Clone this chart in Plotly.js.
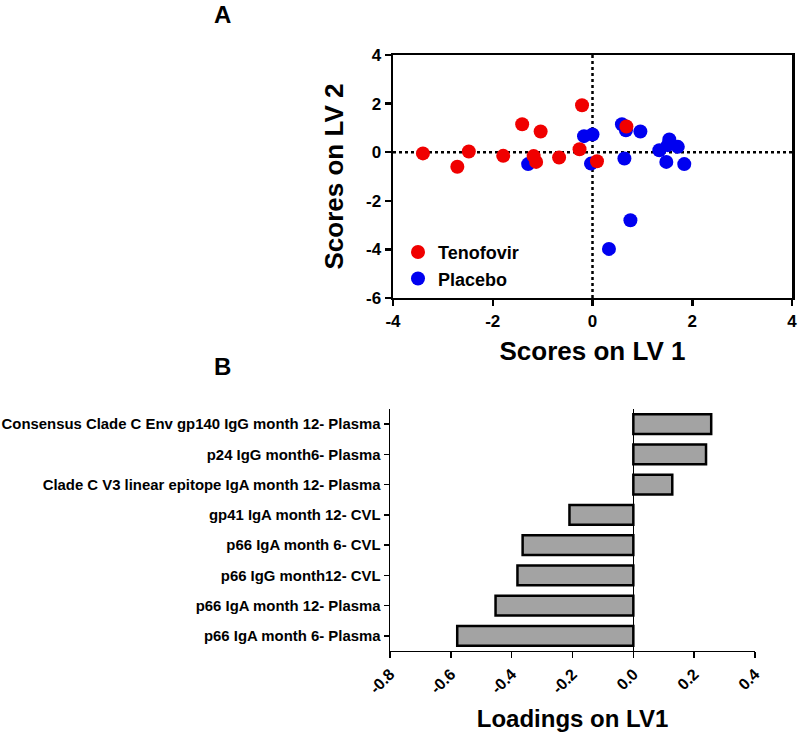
<!DOCTYPE html>
<html>
<head>
<meta charset="utf-8">
<script src="https://cdn.plot.ly/plotly-3.0.1.min.js"></script>
<style>html,body{margin:0;padding:0;background:#fff;}#chart{width:800px;height:732px;}</style>
</head>
<body>
<div id="chart"></div>
<script>
// Panel A: PLS-DA scores
const tenofovirX = [-3.40, -2.71, -2.48, -1.79, -1.41, -1.04, -1.18, -1.13, -0.67, -0.26, -0.21, 0.09, 0.68];
const tenofovirY = [-0.05, -0.60, 0.03, -0.15, 1.15, 0.85, -0.16, -0.40, -0.22, 0.12, 1.93, -0.37, 1.06];
const placeboX = [-1.29, -0.17, 0.00, -0.03, 0.59, 0.67, 0.96, 0.64, 1.34, 1.54, 1.71, 1.51, 1.48, 1.84, 0.76, 0.33];
const placeboY = [-0.49, 0.66, 0.73, -0.47, 1.15, 0.90, 0.85, -0.26, 0.08, 0.52, 0.22, 0.29, -0.40, -0.49, -2.80, -3.98];
const scoreTicks = [-4, -2, 0, 2, 4];
const scoreTickText = ["-4", "-2", "0", "2", "4"];
const scoreYTicks = [-6, -4, -2, 0, 2, 4];
const scoreYTickText = ["-6", "-4", "-2", "0", "2", "4"];

// Panel B: loadings on LV1 (top to bottom)
const loadingLabels = [
  "Consensus Clade C Env gp140 IgG month 12- Plasma",
  "p24 IgG month6- Plasma",
  "Clade C V3 linear epitope IgA month 12- Plasma",
  "gp41 IgA month 12- CVL",
  "p66 IgA month 6- CVL",
  "p66 IgG month12- CVL",
  "p66 IgA month 12- Plasma",
  "p66 IgA month 6- Plasma"
];
const loadingValues = [0.256, 0.239, 0.128, -0.210, -0.364, -0.381, -0.453, -0.579];
const loadTicks = [-0.8, -0.6, -0.4, -0.2, 0.0, 0.2, 0.4];
const loadTickText = ["-0.8", "-0.6", "-0.4", "-0.2", "0.0", "0.2", "0.4"];

const FONT = "Arial, 'Liberation Sans', Helvetica, sans-serif";

const traces = [
  {
    type: "scatter", mode: "markers", name: "Placebo",
    x: placeboX, y: placeboY, xaxis: "x", yaxis: "y",
    marker: {color: "#0000f0", size: 14},
    legendrank: 2
  },
  {
    type: "scatter", mode: "markers", name: "Tenofovir",
    x: tenofovirX, y: tenofovirY, xaxis: "x", yaxis: "y",
    marker: {color: "#f00000", size: 14},
    legendrank: 1
  },
  {
    type: "bar", orientation: "h", showlegend: false,
    x: loadingValues, y: loadingLabels, xaxis: "x2", yaxis: "y2",
    width: 0.66,
    marker: {color: "#a3a3a3", line: {color: "#000", width: 2.5}}
  }
];

const tickFont = {family: FONT, size: 17, color: "#000", weight: "bold"};

const layout = {
  width: 800, height: 732,
  margin: {l: 0, r: 0, t: 0, b: 0},
  paper_bgcolor: "#fff", plot_bgcolor: "rgba(0,0,0,0)",
  font: {family: FONT, color: "#000"},
  showlegend: true,
  legend: {
    x: 0.4975, y: 0.6805, xanchor: "left", yanchor: "top",
    bgcolor: "rgba(0,0,0,0)",
    font: {family: FONT, size: 18, color: "#000", weight: "bold"},
    itemsizing: "trace", tracegroupgap: 0
  },
  xaxis: {
    domain: [0.49125, 0.99], anchor: "y",
    range: [-4, 4], tickmode: "array", tickvals: scoreTicks, ticktext: scoreTickText,
    showgrid: false, zeroline: false,
    showline: true, linecolor: "#000", linewidth: 2.5, mirror: true,
    ticks: "outside", ticklen: 6, tickwidth: 2.5, tickcolor: "#000",
    tickfont: tickFont,
    title: {text: "Scores on LV 1", font: {family: FONT, size: 26, color: "#000", weight: "bold"}, standoff: 12}
  },
  yaxis: {
    domain: [0.5929, 0.92486], anchor: "x",
    range: [-6, 4], tickmode: "array", tickvals: scoreYTicks, ticktext: scoreYTickText,
    showgrid: false, zeroline: false,
    showline: true, linecolor: "#000", linewidth: 2.5, mirror: true,
    ticks: "outside", ticklen: 6, tickwidth: 2.5, tickcolor: "#000",
    tickfont: tickFont,
    title: {text: "Scores on LV 2", font: {family: FONT, size: 26, color: "#000", weight: "bold"}, standoff: 15}
  },
  xaxis2: {
    domain: [0.4875, 0.94375], anchor: "y2",
    range: [-0.8, 0.4], tickmode: "array", tickvals: loadTicks, ticktext: loadTickText,
    tickangle: -45,
    showgrid: false, zeroline: true, zerolinecolor: "#000", zerolinewidth: 1,
    showline: true, linecolor: "#000", linewidth: 1.5,
    ticks: "outside", ticklen: 6, tickwidth: 1.5, tickcolor: "#000",
    tickfont: {family: FONT, size: 16, color: "#000", weight: "bold"},
    title: {text: "Loadings on LV1", font: {family: FONT, size: 24, color: "#000", weight: "bold"}, standoff: 14}
  },
  yaxis2: {
    domain: [0.11066, 0.44126], anchor: "x2",
    type: "category", autorange: false, range: [7.5, -0.5],
    showgrid: false, zeroline: false,
    showline: true, linecolor: "#000", linewidth: 1.5,
    ticks: "outside", ticklen: 5, tickwidth: 1.5, tickcolor: "#000",
    tickfont: {family: FONT, size: 14.9, color: "#000", weight: "bold"}
  },
  shapes: [
    {type: "line", xref: "x", yref: "paper", x0: 0, x1: 0, y0: 0.5929, y1: 0.92486,
     line: {color: "#000", width: 2.5, dash: "dot"}, layer: "below"},
    {type: "line", xref: "paper", yref: "y", x0: 0.49125, x1: 0.99, y0: 0, y1: 0,
     line: {color: "#000", width: 2.5, dash: "dot"}, layer: "below"}
  ],
  annotations: [
    {text: "A", xref: "paper", yref: "paper", x: 0.2775, y: 1 - 15/732, showarrow: false,
     xanchor: "center", yanchor: "middle", font: {family: FONT, size: 24, color: "#000", weight: "bold"}},
    {text: "B", xref: "paper", yref: "paper", x: 0.2775, y: 1 - 366/732, showarrow: false,
     xanchor: "center", yanchor: "middle", font: {family: FONT, size: 24, color: "#000", weight: "bold"}}
  ]
};

Plotly.newPlot("chart", traces, layout, {displayModeBar: false, staticPlot: true});
</script>
</body>
</html>
